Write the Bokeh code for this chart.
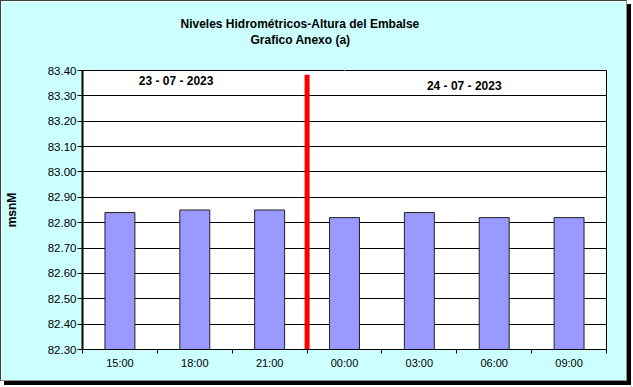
from bokeh.plotting import figure
from bokeh.models import (Range1d, FixedTicker, NumeralTickFormatter, Label, ColumnDataSource,
                          Title, LinearAxis)
from bokeh.embed import file_html
from bokeh.resources import INLINE

# ---- data ----
times = ["15:00", "18:00", "21:00", "00:00", "03:00", "06:00", "09:00"]
levels = [82.84, 82.85, 82.85, 82.82, 82.84, 82.82, 82.82]
dates = ["23 - 07 - 2023", "24 - 07 - 2023"]
date_x = [1.25, 5.1]
date_y = [83.36, 83.34]
y_ticks = [82.30, 82.40, 82.50, 82.60, 82.70, 82.80, 82.90, 83.00, 83.10, 83.20, 83.30, 83.40]
title_lines = ["Niveles Hidrométricos-Altura del Embalse", "Grafico Anexo (a)"]
y_label = "msnM"
day_split = 3  # number of readings on the first day
y_min, y_max = 82.30, 83.40

FONT = "Liberation Sans"
BG = "#CCFFFF"

centers = [i + 0.5 for i in range(len(times))]
bounds = list(range(len(times) + 1))

p = figure(width=627, height=381, output_backend="svg", toolbar_location=None,
           x_range=Range1d(0, len(times)), y_range=Range1d(y_min, y_max),
           min_border_left=81, min_border_right=22, min_border_top=69, min_border_bottom=33)
p.styles = {"border-left": "1px solid #404040", "border-top": "1px solid #404040",
            "border-right": "1px solid #909090", "border-bottom": "1px solid #909090",
            "box-shadow": "4px 4px 0 0 #000000"}

p.background_fill_color = "white"
p.border_fill_color = BG
p.outline_line_color = "black"
p.outline_line_width = 1

src = ColumnDataSource(dict(x=centers, top=levels, t=times))
p.vbar(x="x", top="top", bottom=y_min, width=0.4, source=src,
       fill_color="#9999FF", line_color="#222222", line_width=1)

# red day separator
p.segment(x0=[day_split], x1=[day_split], y0=[83.383], y1=[y_min],
          line_color="#FF0000", line_width=5)

# axes
p.xaxis.ticker = FixedTicker(ticks=centers, minor_ticks=bounds)
p.xaxis.major_label_overrides = {c: t for c, t in zip(centers, times)}
p.xaxis.major_tick_line_color = None
p.xaxis.major_tick_out = 4
p.xaxis.major_tick_in = 0
p.xaxis.minor_tick_line_color = "black"
p.xaxis.minor_tick_out = 4
p.xaxis.minor_tick_in = 0
p.xaxis.major_label_standoff = 3
p.xaxis.axis_line_color = "black"
p.xaxis.major_label_text_font = FONT
p.xaxis.major_label_text_font_size = "11px"
p.xaxis.major_label_text_color = "black"

p.yaxis.ticker = FixedTicker(ticks=y_ticks)
p.yaxis.formatter = NumeralTickFormatter(format="0.00")
p.yaxis.major_tick_out = 5
p.yaxis.major_tick_in = 0
p.yaxis.minor_tick_line_color = None
p.yaxis.major_label_standoff = 1
p.yaxis.axis_line_color = "black"
p.yaxis.axis_line_width = 2
p.yaxis.major_label_text_font = FONT
p.yaxis.major_label_text_font_size = "11.5px"
p.yaxis.major_label_text_color = "black"
p.yaxis.axis_label = y_label
p.yaxis.axis_label_text_font = FONT
p.yaxis.axis_label_text_font_style = "bold"
p.yaxis.axis_label_text_font_size = "12px"
p.yaxis.axis_label_text_color = "black"
p.yaxis.axis_label_standoff = 26

p.xgrid.grid_line_color = None
p.ygrid.ticker = FixedTicker(ticks=y_ticks)
p.ygrid.grid_line_color = "black"
p.ygrid.grid_line_width = 1

# date labels
for d, dx, dy in zip(dates, date_x, date_y):
    p.add_layout(Label(x=dx, y=dy, text=d, text_align="center", text_baseline="middle",
                       text_font=FONT, text_font_style="bold", text_font_size="12px",
                       text_color="black"))

# spacer between the frame and the title lines: an axis whose single tick is
# drawn in the background colour (invisible) and has an empty label
spacer = LinearAxis(ticker=FixedTicker(ticks=[day_split + 0.5], minor_ticks=[]),
                    axis_line_color=None,
                    major_tick_line_color=BG, minor_tick_line_color=None,
                    major_tick_out=24, major_tick_in=0, minor_tick_out=0, minor_tick_in=0,
                    major_label_standoff=0, major_label_text_font_size="1px",
                    major_label_overrides={day_split + 0.5: ""})
p.add_layout(spacer, "above")

title_style = dict(text_font=FONT, text_font_style="bold", text_font_size="12px",
                   text_color="black", vertical_align="bottom")
p.add_layout(Title(text=title_lines[1], align="left", offset=168, standoff=0, **title_style), "above")
p.add_layout(Title(text=title_lines[0], align="left", offset=98, standoff=0, **title_style), "above")

open("out.html", "w").write(file_html(p, INLINE))
